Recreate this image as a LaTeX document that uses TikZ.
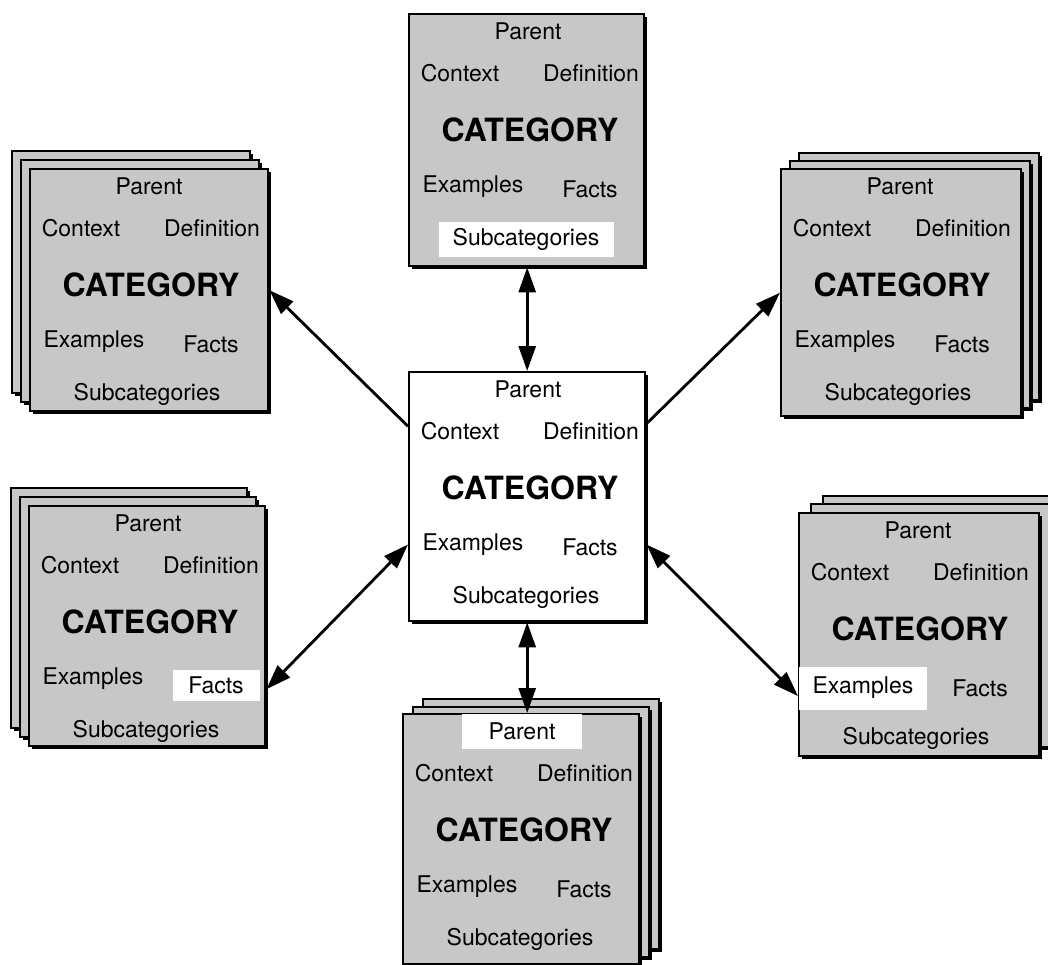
\documentclass[tikz,border=0pt]{standalone}
\usepackage{fontspec}
\setmainfont{TeX Gyre Heros}
\usetikzlibrary{arrows.meta,shadows,calc}
\definecolor{screen}{gray}{0.78}

\tikzset{
  page/.style={draw, line width=2.4pt, fill=screen, inner sep=0pt, anchor=north west,
    drop shadow={shadow xshift=2.5pt, shadow yshift=-2.5pt, opacity=1, fill=black}},
  plainpage/.style={page, fill=white},
  slot/.style={font=\fontsize{23}{25}\selectfont, inner sep=1pt},
  title/.style={font=\fontsize{32}{35}\selectfont\bfseries, inner sep=1pt},
  hl/.style={fill=white},
  sParent/.style={}, sContext/.style={}, sDefinition/.style={},
  sExamples/.style={}, sFacts/.style={}, sSub/.style={},
  tip/.tip={Triangle[length=25pt,width=17pt]},
  oneway/.style={line width=2.8pt, -tip},
  twoway/.style={line width=2.8pt, tip-tip},
}

% the seven slots of a category card, placed from the card's top-left corner
\newcommand\cardslots[1]{%
  \node[slot, sParent]     (#1-parent) at ([shift={(120,18)}]#1.north west)  {Parent};
  \node[slot, sContext]    (#1-ctx)    at ([shift={(52,60)}]#1.north west)   {Context};
  \node[slot, sDefinition] (#1-def)    at ([shift={(183,60)}]#1.north west)  {Definition};
  \node[title]             (#1-cat)    at ([shift={(122,117)}]#1.north west) {CATEGORY};
  \node[slot, sExamples]   (#1-ex)     at ([shift={(65,174)}]#1.north west)  {Examples};
  \node[slot, sFacts]      (#1-facts)  at ([shift={(182,176)}]#1.north west) {Facts};
  \node[slot, sSub]        (#1-sub)    at ([shift={(118,226)}]#1.north west) {Subcategories};
}

\begin{document}
\begin{tikzpicture}[x=1pt, y=-1pt]
  \useasboundingbox (0,0) rectangle (1048,964);
  \clip (0,0) rectangle (1048,964);

  % top card (single)
  \node[page, minimum width=235pt, minimum height=252pt] (top) at (408,13) {};
  \begin{scope}[sSub/.style={hl, minimum width=175pt, minimum height=35pt}]
    \cardslots{top}
  \end{scope}

  % upper left stack
  \node[page, minimum width=238pt, minimum height=242pt] (tl3) at (11,150) {};
  \node[page, minimum width=238pt, minimum height=242pt] (tl2) at (20,159) {};
  \node[page, minimum width=238pt, minimum height=242pt] (tl)  at (29,168) {};
  \cardslots{tl}

  % upper right stack
  \node[page, minimum width=240pt, minimum height=247pt] (tr3) at (798,152) {};
  \node[page, minimum width=240pt, minimum height=247pt] (tr2) at (789,160) {};
  \node[page, minimum width=240pt, minimum height=247pt] (tr)  at (780,168) {};
  \cardslots{tr}

  % lower left stack
  \node[page, minimum width=236pt, minimum height=240pt] (bl3) at (10,487) {};
  \node[page, minimum width=236pt, minimum height=240pt] (bl2) at (19,496) {};
  \node[page, minimum width=236pt, minimum height=240pt] (bl)  at (28,505) {};
  \begin{scope}[sFacts/.style={hl, minimum width=87pt, minimum height=31pt, xshift=6pt, yshift=-4pt}]
    \cardslots{bl}
  \end{scope}

  % lower right stack
  \node[page, minimum width=240pt, minimum height=243pt] (br3) at (822,495) {};
  \node[page, minimum width=240pt, minimum height=243pt] (br2) at (810,503) {};
  \node[page, minimum width=240pt, minimum height=243pt] (br)  at (798,512) {};
  \begin{scope}[sExamples/.style={hl, minimum width=128pt, minimum height=43pt, yshift=-2pt}]
    \cardslots{br}
  \end{scope}

  % bottom stack
  \node[page, minimum width=236pt, minimum height=250pt] (bot3) at (422,698) {};
  \node[page, minimum width=236pt, minimum height=250pt] (bot2) at (412,706) {};
  \node[page, minimum width=236pt, minimum height=250pt] (bot)  at (402,713) {};
  \begin{scope}[sParent/.style={hl, minimum width=120pt, minimum height=35pt}]
    \cardslots{bot}
  \end{scope}

  % central card
  \node[plainpage, minimum width=236pt, minimum height=249pt] (c) at (408,371) {};
  \cardslots{c}

  % links between the central card and its neighbours
  \draw[twoway] (c.north) -- (c.north |- top.south);
  \draw[twoway] (c.south) -- (c.south |- bot.north);
  \draw[oneway] ($(c.north west)!0.22!(c.south west)$) -- (tl.east);
  \draw[oneway] ($(c.north east)!0.21!(c.south east)$) -- (tr.west);
  \draw[twoway] ($(c.north west)!0.69!(c.south west)$) -- ($(bl.north east)!0.76!(bl.south east)$);
  \draw[twoway] ($(c.north east)!0.69!(c.south east)$) -- ($(br.north west)!0.75!(br.south west)$);
\end{tikzpicture}
\end{document}
